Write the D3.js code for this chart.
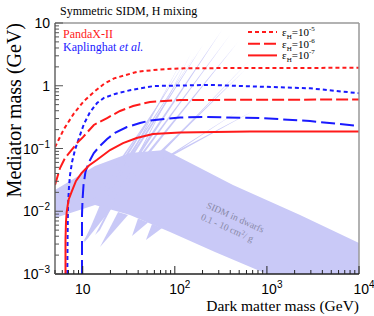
<!DOCTYPE html>
<html>
<head>
<meta charset="utf-8">
<script src="https://cdn.jsdelivr.net/npm/d3@7"></script>
<style>
  body { margin: 0; background: #fff; }
  svg { display: block; }
</style>
</head>
<body>
<svg id="chart" width="374" height="316"></svg>
<script>
// ---- data (GeV) ----
const massDomain = [5, 1e4];
const medDomain = [1e-3, 10];
const xTickLabels = ["10", "10^2", "10^3", "10^4"];
const yTickLabels = ["10^-3", "10^-2", "10^-1", "1", "10"];

// PandaX-II limits
const redEps5 = [[5,0.105],[6.26,0.205],[8,0.36],[10.3,0.571],[13.3,0.8],[17,1.07],[21.9,1.31],[39,1.67],[68.7,1.82],[126,1.9],[655,1.92],[10000,1.93]];
const redEps6 = [[5,0.0262],[5.67,0.0489],[6.43,0.0706],[7.28,0.088],[8.67,0.122],[10.07,0.152],[13.2,0.237],[18.4,0.306],[25.4,0.396],[35.2,0.476],[53.7,0.551],[114,0.593],[10000,0.604]];
const redEps7 = [[6.5,0.001],[6.5,0.00348],[6.58,0.00674],[6.7,0.00973],[7.01,0.0151],[7.59,0.0206],[8.45,0.0304],[9.75,0.0407],[11.7,0.0536],[14.2,0.0656],[19.8,0.0946],[27.4,0.122],[38.5,0.147],[57.9,0.17],[114,0.18],[655,0.187],[10000,0.186]];
// Kaplinghat et al.
const blueEps5 = [[6.8,0.001],[6.85,0.004],[6.92,0.012],[7.1,0.025],[7.28,0.038],[7.66,0.061],[8.24,0.095],[9.11,0.147],[10.3,0.245],[12,0.38],[14.3,0.53],[17,0.64],[22.4,0.74],[33.4,0.855],[59.4,0.99],[241,1.03],[2940,0.91],[10000,0.76]];
const blueEps6 = [[9.82,0.001],[9.82,0.0087],[9.95,0.0151],[10.2,0.0262],[10.7,0.0422],[11.7,0.061],[13.2,0.0847],[15.4,0.11],[18.4,0.142],[22.4,0.177],[30.2,0.22],[41.9,0.255],[53.7,0.279],[114,0.312],[202,0.318],[841,0.306],[2940,0.274],[10000,0.229]];

// SIDM in dwarfs region, 0.1 - 10 cm^2/g
const sidmBand = [[5,0.0218],[13.6,0.0526],[32.6,0.0847],[78.2,0.0946],[188,0.0489],[428,0.0262],[2290,0.00871],[10000,0.00312],[10000,0.001],[1000,0.001],[273,0.00224],[88.7,0.00467],[32.6,0.00871],[13.6,0.0126],[5,0.0078]];
const sidmSpikes = [
  [[10.07,0.00324],[11.4,0.00375],[120,2.57]],
  [[13.6,0.00419],[15.4,0.00502],[153,3.45]],
  [[12.6,0.0151],[14.6,0.0175],[78.2,0.713]],
  [[15.4,0.0182],[17.9,0.021],[129,2.39]],
  [[17.0,0.0203],[18.8,0.0218],[166,3.09]],
  [[18.8,0.0218],[21.9,0.0252],[202,4.46]],
  [[23.0,0.0262],[26.7,0.0292],[325,7.73]],
  [[25.4,0.0292],[28.0,0.0304],[397,6.44]],
  [[28.0,0.0304],[32.6,0.0339],[485,4.98]],
  [[36.1,0.0365],[44.0,0.0422],[578,1.78]],
  [[41.9,0.0393],[48.6,0.0454],[655,2.57]],
  [[48.6,0.0454],[60.9,0.0526],[510,0.411]],
  [[69.0,0.0656],[84.4,0.0706],[743,0.411]],
  [[15.4,0.0126],[20.8,0.0113],[10.3,0.00312]],
  [[24.2,0.00973],[31.0,0.00871],[15.4,0.00269]],
  [[39.8,0.00766],[51.2,0.00662],[34.3,0.00404]],
  [[56.5,0.00627],[72.8,0.0054],[48.6,0.00348]]
];

const series = [
  { data: redEps5, color: "#ff1a1a", dash: "4,3" },
  { data: blueEps5, color: "#1a1aff", dash: "4,3" },
  { data: redEps6, color: "#ff1a1a", dash: "12,4" },
  { data: blueEps6, color: "#1a1aff", dash: "14,5" },
  { data: redEps7, color: "#ff1a1a", dash: null }
];
const legendItems = [
  { exp: "-5", dash: "4,3" },
  { exp: "-6", dash: "12,4" },
  { exp: "-7", dash: null }
];

// ---- layout ----
const mL = 55, mR = 359, mT = 23, mB = 274;
const svg = d3.select("#chart");
const x = d3.scaleLog().domain(massDomain).range([mL, mR]);
const y = d3.scaleLog().domain(medDomain).range([mB, mT]);

svg.append("defs").append("clipPath").attr("id", "plotclip")
  .append("rect").attr("x", mL).attr("y", mT)
  .attr("width", mR - mL).attr("height", mB - mT);

const plot = svg.append("g").attr("clip-path", "url(#plotclip)");
const bandColor = "#c9c9f7";
const lineRaw = d3.line().x(d => x(d[0])).y(d => y(d[1]));

plot.append("path")
  .attr("d", lineRaw(sidmBand) + "Z")
  .attr("fill", bandColor);
plot.selectAll("path.spike").data(sidmSpikes).enter().append("path")
  .attr("class", "spike")
  .attr("d", d => lineRaw(d) + "Z")
  .attr("fill", bandColor);

svg.append("text")
  .attr("transform", `translate(${x(440)},${y(0.0072)}) rotate(24)`)
  .attr("text-anchor", "middle")
  .attr("font-family", "Liberation Serif")
  .attr("font-size", 9.5)
  .attr("fill", "#8a8aa8")
  .text("SIDM in dwarfs");
const t2 = svg.append("text")
  .attr("transform", `translate(${x(360)},${y(0.0049)}) rotate(24)`)
  .attr("text-anchor", "middle")
  .attr("font-family", "Liberation Serif")
  .attr("font-size", 9.5)
  .attr("fill", "#8a8aa8");
t2.append("tspan").text("0.1 - 10 cm");
t2.append("tspan").attr("dy", -3).attr("font-size", 6.5).text("2");
t2.append("tspan").attr("dy", 3).text("/ g");

plot.selectAll("path.curve").data(series).enter().append("path")
  .attr("class", "curve")
  .attr("d", d => lineRaw(d.data))
  .attr("fill", "none")
  .attr("stroke", d => d.color)
  .attr("stroke-width", 2)
  .attr("stroke-dasharray", d => d.dash);

// ---- frame & ticks ----
const frame = svg.append("g");
frame.append("line").attr("x1", mL).attr("x2", mR).attr("y1", mT).attr("y2", mT).attr("stroke", "#999").attr("stroke-width", 1.5);
frame.append("line").attr("x1", mR).attr("x2", mR).attr("y1", mT).attr("y2", mB).attr("stroke", "#999").attr("stroke-width", 1.5);
frame.append("line").attr("x1", mL).attr("x2", mR).attr("y1", mB).attr("y2", mB).attr("stroke", "#222").attr("stroke-width", 1.5);
frame.append("line").attr("x1", mL).attr("x2", mL).attr("y1", mT).attr("y2", mB).attr("stroke", "#666").attr("stroke-width", 1.5);

const xMinor = [], yMinor = [];
for (let e = 0; e <= 4; e++) for (let k = 1; k < 10; k++) {
  const v = k * Math.pow(10, e);
  if (v >= massDomain[0] && v <= massDomain[1]) xMinor.push({ v, major: k === 1 });
}
for (let e = -3; e <= 1; e++) for (let k = 1; k < 10; k++) {
  const v = k * Math.pow(10, e);
  if (v >= medDomain[0] && v <= medDomain[1] * 1.0001) yMinor.push({ v, major: k === 1 });
}
frame.selectAll("line.xt").data(xMinor).enter().append("line")
  .attr("x1", d => x(d.v)).attr("x2", d => x(d.v))
  .attr("y1", mB).attr("y2", d => mB - (d.major ? 8 : 4))
  .attr("stroke", "#222").attr("stroke-width", 1);
frame.selectAll("line.yt").data(yMinor).enter().append("line")
  .attr("y1", d => y(d.v)).attr("y2", d => y(d.v))
  .attr("x1", mL).attr("x2", d => mL + (d.major ? 8 : 4))
  .attr("stroke", "#555").attr("stroke-width", 1);

function powLabel(sel, txt, sup) {
  const parts = txt.split("^");
  sel.append("tspan").text(parts[0]);
  if (parts[1]) {
    sel.append("tspan").attr("dy", -6).attr("font-size", sup).text(parts[1].replace("-", "\u2212"));
  }
}
const xTickVals = [10, 100, 1000, 10000];
xTickVals.forEach((v, i) => {
  const t = svg.append("text").attr("x", x(v) + (i > 0 ? 5 : 0)).attr("y", 293.5)
    .attr("text-anchor", "middle")
    .attr("font-family", "Liberation Sans").attr("font-size", 14);
  powLabel(t, xTickLabels[i], 10);
});
const yTickVals = [1e-3, 1e-2, 1e-1, 1, 10];
yTickVals.forEach((v, i) => {
  const t = svg.append("text").attr("x", 50).attr("y", y(v) + 5)
    .attr("text-anchor", "end")
    .attr("font-family", "Liberation Sans").attr("font-size", 14);
  powLabel(t, yTickLabels[i], 10);
});

// ---- titles ----
svg.append("text").attr("x", mR).attr("y", 310.5).attr("text-anchor", "end")
  .attr("font-family", "Liberation Serif").attr("font-size", 15.5)
  .text("Dark matter mass (GeV)");
svg.append("text").attr("transform", `translate(21,${mT}) rotate(-90)`)
  .attr("text-anchor", "end")
  .attr("font-family", "Liberation Serif").attr("font-size", 20)
  .text("Mediator mass (GeV)");
svg.append("text").attr("x", 60).attr("y", 15)
  .attr("font-family", "Liberation Serif").attr("font-size", 12)
  .text("Symmetric SIDM, H mixing");
svg.append("text").attr("x", 63).attr("y", 38)
  .attr("font-family", "Liberation Serif").attr("font-size", 12).attr("fill", "#ff1a1a")
  .text("PandaX-II");
const kap = svg.append("text").attr("x", 63).attr("y", 51)
  .attr("font-family", "Liberation Serif").attr("font-size", 12).attr("fill", "#1a1aff");
kap.append("tspan").text("Kaplinghat ");
kap.append("tspan").attr("font-style", "italic").text("et al.");

// ---- legend ----
const leg = svg.append("g");
legendItems.forEach((d, i) => {
  const ly = 32 + i * 11.7;
  leg.append("line").attr("x1", 248).attr("x2", 277).attr("y1", ly).attr("y2", ly)
    .attr("stroke", "#ff1a1a").attr("stroke-width", 2)
    .attr("stroke-dasharray", d.dash);
  const t = leg.append("text").attr("x", 282).attr("y", ly + 4)
    .attr("font-family", "Liberation Serif").attr("font-size", 11);
  t.append("tspan").text("\u03b5");
  t.append("tspan").attr("dy", 3).attr("font-size", 7).text("H");
  t.append("tspan").attr("dy", -3).text("=10");
  t.append("tspan").attr("dy", -5).attr("font-size", 7).text(d.exp);
});
</script>
</body>
</html>
